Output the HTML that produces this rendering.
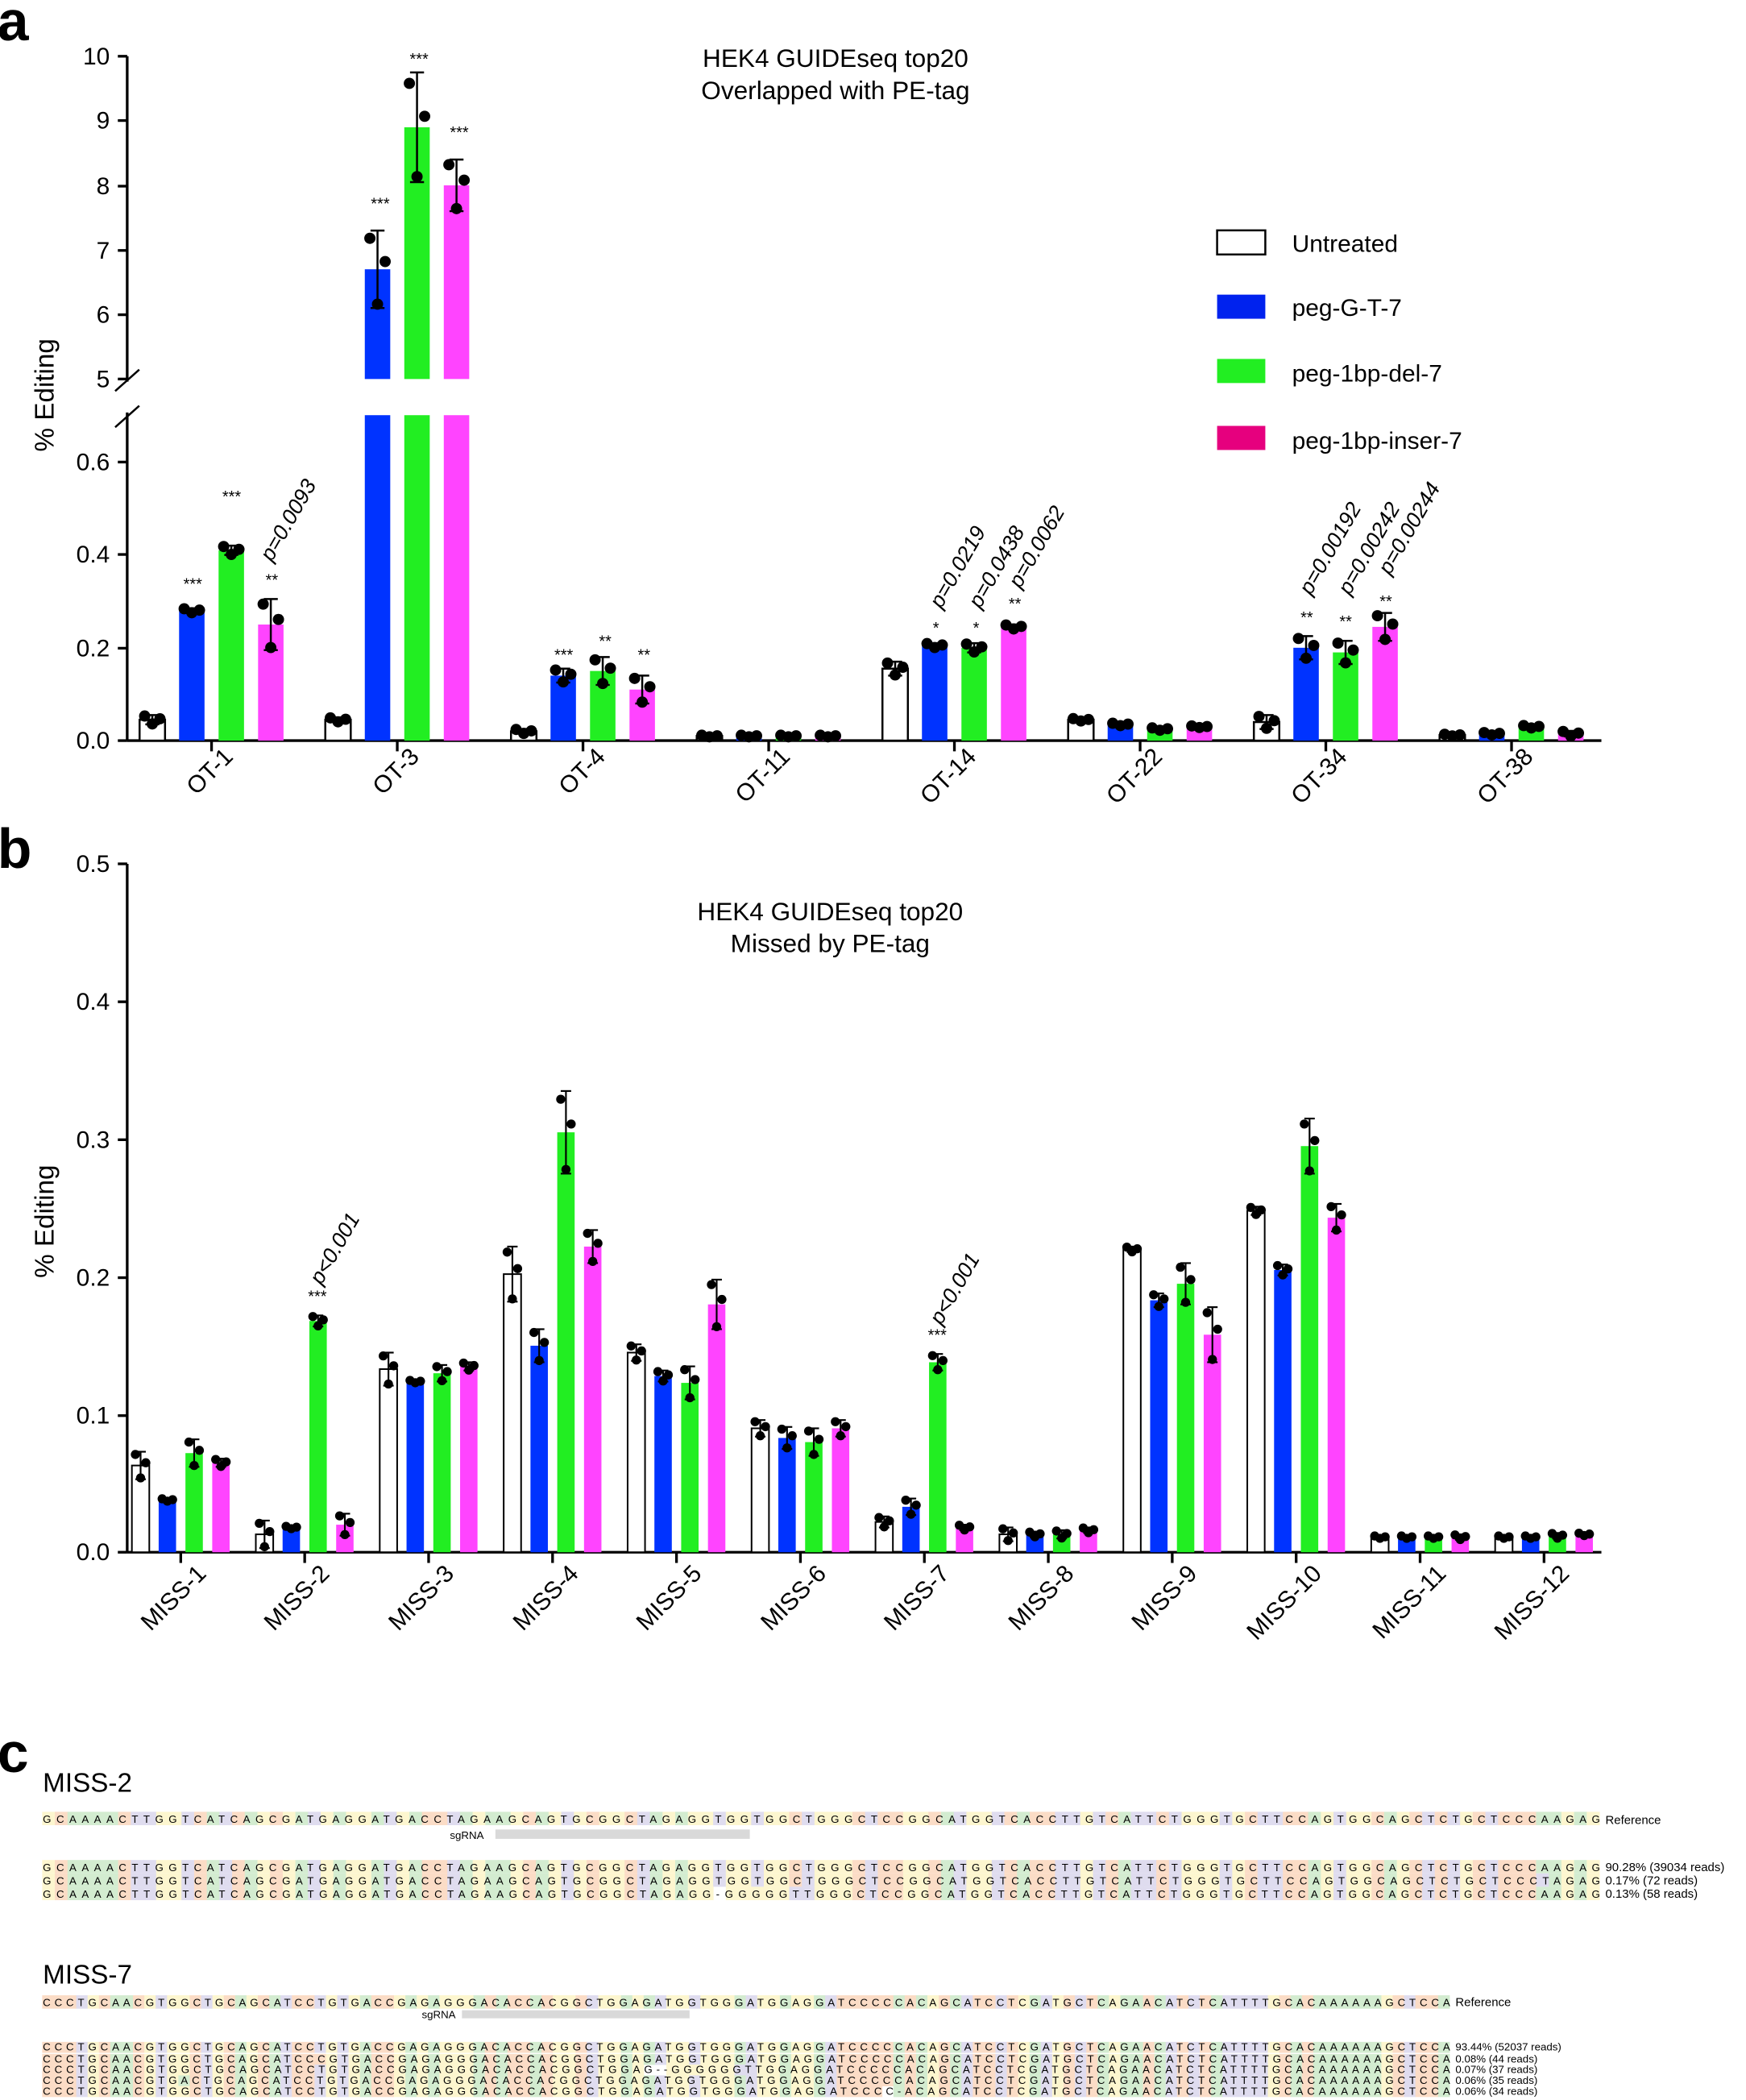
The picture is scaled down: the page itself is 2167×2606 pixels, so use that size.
<!DOCTYPE html>
<html><head><meta charset="utf-8"><style>
html,body{margin:0;padding:0;background:#fff}
svg{display:block}
text{font-family:"Liberation Sans",Arial,sans-serif;fill:#000}
.tk{font-size:18px;text-anchor:end}
.xl{font-size:18px;text-anchor:end}
.st{font-size:12px;text-anchor:middle}
.pv{font-size:16px;font-style:italic}
.seq{font-size:8px;font-family:"Liberation Sans",sans-serif}
.sl{font-size:9px}
</style></head><body>
<svg id="s" width="2167" height="2606" viewBox="0 0 1304 1568" preserveAspectRatio="none" xmlns="http://www.w3.org/2000/svg">
<g id="shapes"></g>
<text x="-2" y="30" style="font-size:42px;font-weight:bold">a</text>
<text x="-2" y="648" style="font-size:42px;font-weight:bold">b</text>
<text x="-2" y="1323" style="font-size:42px;font-weight:bold">c</text>
<text class="tk" x="82" y="48">10</text><text class="tk" x="82" y="96">9</text><text class="tk" x="82" y="145">8</text>
<text class="tk" x="82" y="193">7</text><text class="tk" x="82" y="241">6</text><text class="tk" x="82" y="289">5</text>
<text class="tk" x="82" y="351">0.6</text><text class="tk" x="82" y="420">0.4</text><text class="tk" x="82" y="490">0.2</text><text class="tk" x="82" y="559">0.0</text>
<text transform="translate(40,295) rotate(-90)" style="font-size:20px;text-anchor:middle">% Editing</text>
<text x="624" y="50" style="font-size:19px;text-anchor:middle">HEK4 GUIDEseq top20</text>
<text x="624" y="74" style="font-size:19px;text-anchor:middle">Overlapped with PE-tag</text>
<text x="965" y="188" style="font-size:18px">Untreated</text>
<text x="965" y="236" style="font-size:18px">peg-G-T-7</text>
<text x="965" y="285" style="font-size:18px">peg-1bp-del-7</text>
<text x="965" y="335" style="font-size:18px">peg-1bp-inser-7</text>
<text class="xl" transform="translate(175,566) rotate(-45)">OT-1</text>
<text class="xl" transform="translate(314,566) rotate(-45)">OT-3</text>
<text class="xl" transform="translate(453,566) rotate(-45)">OT-4</text>
<text class="xl" transform="translate(591,566) rotate(-45)">OT-11</text>
<text class="xl" transform="translate(730,566) rotate(-45)">OT-14</text>
<text class="xl" transform="translate(869,566) rotate(-45)">OT-22</text>
<text class="xl" transform="translate(1007,566) rotate(-45)">OT-34</text>
<text class="xl" transform="translate(1146,566) rotate(-45)">OT-38</text>
<text class="st" x="144" y="440">***</text><text class="st" x="173" y="375">***</text><text class="st" x="203" y="437">**</text>
<text class="st" x="284" y="156">***</text><text class="st" x="313" y="48">***</text><text class="st" x="343" y="103">***</text>
<text class="st" x="421" y="493">***</text><text class="st" x="452" y="483">**</text><text class="st" x="481" y="493">**</text>
<text class="st" x="699" y="473">*</text><text class="st" x="729" y="473">*</text><text class="st" x="758" y="455">**</text>
<text class="st" x="976" y="465">**</text><text class="st" x="1005" y="468">**</text><text class="st" x="1035" y="453">**</text>
<text class="pv" transform="translate(203,420) rotate(-60)">p=0.0093</text>
<text class="pv" transform="translate(703,455) rotate(-60)">p=0.0219</text>
<text class="pv" transform="translate(732,455) rotate(-60)">p=0.0438</text>
<text class="pv" transform="translate(762,440) rotate(-60)">p=0.0062</text>
<text class="pv" transform="translate(979,445) rotate(-60)">p=0.00192</text>
<text class="pv" transform="translate(1008,445) rotate(-60)">p=0.00242</text>
<text class="pv" transform="translate(1038,430) rotate(-60)">p=0.00244</text>
<text class="tk" x="82" y="651">0.5</text><text class="tk" x="82" y="754">0.4</text><text class="tk" x="82" y="857">0.3</text>
<text class="tk" x="82" y="960">0.2</text><text class="tk" x="82" y="1063">0.1</text><text class="tk" x="82" y="1165">0.0</text>
<text transform="translate(40,912) rotate(-90)" style="font-size:20px;text-anchor:middle">% Editing</text>
<text x="620" y="687" style="font-size:19px;text-anchor:middle">HEK4 GUIDEseq top20</text>
<text x="620" y="711" style="font-size:19px;text-anchor:middle">Missed by PE-tag</text>
<text class="st" x="237" y="972">***</text><text class="st" x="700" y="1001">***</text>
<text class="pv" transform="translate(240,960) rotate(-60)">p&lt;0.001</text>
<text class="pv" transform="translate(703,990) rotate(-60)">p&lt;0.001</text>
<text class="xl" transform="translate(155,1176) rotate(-45)">MISS-1</text>
<text class="xl" transform="translate(247,1176) rotate(-45)">MISS-2</text>
<text class="xl" transform="translate(340,1176) rotate(-45)">MISS-3</text>
<text class="xl" transform="translate(433,1176) rotate(-45)">MISS-4</text>
<text class="xl" transform="translate(525,1176) rotate(-45)">MISS-5</text>
<text class="xl" transform="translate(618,1176) rotate(-45)">MISS-6</text>
<text class="xl" transform="translate(710,1176) rotate(-45)">MISS-7</text>
<text class="xl" transform="translate(803,1176) rotate(-45)">MISS-8</text>
<text class="xl" transform="translate(895,1176) rotate(-45)">MISS-9</text>
<text class="xl" transform="translate(988,1176) rotate(-45)">MISS-10</text>
<text class="xl" transform="translate(1081,1176) rotate(-45)">MISS-11</text>
<text class="xl" transform="translate(1173,1176) rotate(-45)">MISS-12</text>
<g id="seqbg"></g>
<text x="32" y="1338" style="font-size:20px">MISS-2</text>
<text class="seq" x="32" y="1361" textLength="1163" lengthAdjust="spacing">GCAAAACTTGGTCATCAGCGATGAGGATGACCTAGAAGCAGTGCGGCTAGAGGTGGTGGCTGGGCTCCGGCATGGTCACCTTGTCATTCTGGGTGCTTCCAGTGGCAGCTCTGCTCCCAAGAG</text>
<text class="sl" x="1199" y="1362">Reference</text>
<text x="336" y="1373" style="font-size:8px">sgRNA</text>
<text class="seq" x="32" y="1397" textLength="1163" lengthAdjust="spacing">GCAAAACTTGGTCATCAGCGATGAGGATGACCTAGAAGCAGTGCGGCTAGAGGTGGTGGCTGGGCTCCGGCATGGTCACCTTGTCATTCTGGGTGCTTCCAGTGGCAGCTCTGCTCCCAAGAG</text>
<text class="seq" x="32" y="1407" textLength="1163" lengthAdjust="spacing">GCAAAACTTGGTCATCAGCGATGAGGATGACCTAGAAGCAGTGCGGCTAGAGGTGGTGGCTGGGCTCCGGCATGGTCACCTTGTCATTCTGGGTGCTTCCAGTGGCAGCTCTGCTCCCTAGAG</text>
<text class="seq" x="32" y="1417" textLength="1163" lengthAdjust="spacing">GCAAAACTTGGTCATCAGCGATGAGGATGACCTAGAAGCAGTGCGGCTAGAGG-GGGGGTTGGGCTCCGGCATGGTCACCTTGTCATTCTGGGTGCTTCCAGTGGCAGCTCTGCTCCCAAGAG</text>
<text class="sl" x="1199" y="1397">90.28% (39034 reads)</text>
<text class="sl" x="1199" y="1407">0.17% (72 reads)</text>
<text class="sl" x="1199" y="1417">0.13% (58 reads)</text>
<text x="32" y="1481" style="font-size:20px">MISS-7</text>
<text class="seq" x="32" y="1498" textLength="1051" lengthAdjust="spacing">CCCTGCAACGTGGCTGCAGCATCCTGTGACCGAGAGGGACACCACGGCTGGAGATGGTGGGATGGAGGATCCCCCACAGCATCCTCGATGCTCAGAACATCTCATTTTGCACAAAAAAGCTCCA</text>
<text class="sl" x="1087" y="1498">Reference</text>
<text x="315" y="1507" style="font-size:8px">sgRNA</text>
<text class="seq" x="32" y="1531" textLength="1051" lengthAdjust="spacing">CCCTGCAACGTGGCTGCAGCATCCTGTGACCGAGAGGGACACCACGGCTGGAGATGGTGGGATGGAGGATCCCCCACAGCATCCTCGATGCTCAGAACATCTCATTTTGCACAAAAAAGCTCCA</text>
<text class="seq" x="32" y="1540" textLength="1051" lengthAdjust="spacing">CCCTGCAACGTGGCTGCAGCATCCCGTGACCGAGAGGGACACCACGGCTGGAGATGGTGGGATGGAGGATCCCCCACAGCATCCTCGATGCTCAGAACATCTCATTTTGCACAAAAAAGCTCCA</text>
<text class="seq" x="32" y="1548" textLength="1051" lengthAdjust="spacing">CCCTGCAACGTGGCTGCAGCATCCTGTGACCGAGAGGGACACCACGGCTGGAG--GGGGGGTTGGAGGATCCCCCACAGCATCCTCGATGCTCAGAACATCTCATTTTGCACAAAAAAGCTCCA</text>
<text class="seq" x="32" y="1556" textLength="1051" lengthAdjust="spacing">CCCTGCAACGTGACTGCAGCATCCTGTGACCGAGAGGGACACCACGGCTGGAGATGGTGGGATGGAGGATCCCCCACAGCATCCTCGATGCTCAGAACATCTCATTTTGCACAAAAAAGCTCCA</text>
<text class="seq" x="32" y="1564" textLength="1051" lengthAdjust="spacing">CCCTGCAACGTGGCTGCAGCATCCTGTGACCGAGAGGGACACCACGGCTGGAGATGGTGGGATGGAGGATCCCC-ACAGCATCCTCGATGCTCAGAACATCTCATTTTGCACAAAAAAGCTCCA</text>
<text class="sl" x="1087" y="1531" style="font-size:8px">93.44% (52037 reads)</text>
<text class="sl" x="1087" y="1540" style="font-size:8px">0.08% (44 reads)</text>
<text class="sl" x="1087" y="1548" style="font-size:8px">0.07% (37 reads)</text>
<text class="sl" x="1087" y="1556" style="font-size:8px">0.06% (35 reads)</text>
<text class="sl" x="1087" y="1564" style="font-size:8px">0.06% (34 reads)</text>
</svg>
<script>
(function(){
var NS="http://www.w3.org/2000/svg";
var g=document.getElementById("shapes");
function el(t,a,p){var e=document.createElementNS(NS,t);for(var k in a)e.setAttribute(k,a[k]);(p||g).appendChild(e);return e;}
function line(x1,y1,x2,y2,w){el("line",{x1:x1,y1:y1,x2:x2,y2:y2,stroke:"#000","stroke-width":w||1.5});}
var fills=["#ffffff","#0033ff","#22ee22","#ff44ff"];
line(95,42,95,285,2);line(95,308,95,553,2);line(95,553,1196,553,2);
[42,90,139,187,235,283].forEach(function(y){line(88,y,95,y,2);});
[345,414,484,553].forEach(function(y){line(88,y,95,y,2);});
line(86,292,104,276,1.5);line(86,319,104,303,1.5);
function ya(v){return v<=0.7?553-v*346.7:283-(v-5)*48.2;}
var A=[[.045,.28,.41,.25],[.045,6.7,8.9,8.0],[.02,.14,.15,.11],[.01,.01,.01,.01],[.155,.205,.20,.245],[.045,.035,.025,.03],[.04,.20,.19,.245],[.012,.015,.03,.015]];
var AS=[[.01,.005,.01,.055],[.005,.6,.85,.4],[.005,.015,.03,.03],[.002,.002,.002,.002],[.015,.005,.01,.005],[.003,.003,.003,.002],[.015,.025,.025,.03],[.002,.003,.003,.006]];
function bar(cx,w,v,sd,k,yf,split){
  var x=cx-w/2;
  if(split&&v>5){
    el("rect",{x:x,y:310,width:w,height:243,fill:fills[k]});
    el("rect",{x:x,y:yf(v),width:w,height:283-yf(v),fill:fills[k]});
  } else {
    el("rect",{x:x,y:yf(v),width:w,height:553-yf(v),fill:fills[k],stroke:k==0?"#000":"none","stroke-width":1.5});
  }
  var yt=yf(v+sd),yb=yf(Math.max(0,v-sd)),cw=w*0.55;
  line(cx,yt,cx,yb,1.5);line(cx-cw/2,yt,cx+cw/2,yt,1.5);line(cx-cw/2,yb,cx+cw/2,yb,1.5);
  var pts=[[-w*0.3,v+sd*0.8],[0,v-sd*0.9],[w*0.3,v+sd*0.2]];
  pts.forEach(function(p){el("circle",{cx:cx+p[0],cy:yf(p[1]),r:4.2,fill:"#000"});});
}
for(var i=0;i<8;i++){var c=158+i*138.7;line(c,553,c,561,2);
  for(var k=0;k<4;k++)bar(c+(k-1.5)*29.5,19,A[i][k],AS[i][k],k,ya,true);}
var ly=[172,220,268,318],lc=["#fff","#0022ee","#22ee22","#e6007e"];
for(var k=0;k<4;k++)el("rect",{x:909,y:ly[k],width:36,height:18,fill:lc[k],stroke:k==0?"#000":"none","stroke-width":1.5});
line(95,645,95,1159,2);line(95,1159,1196,1159,2);
[645,748,851,954,1057,1159].forEach(function(y){line(88,y,95,y,2);});
function yb(v){return 1159-v*1028;}
var B=[[.063,.038,.072,.065],[.013,.018,.168,.02],[.133,.124,.13,.135],[.202,.15,.305,.222],[.145,.128,.123,.18],[.09,.083,.08,.09],[.022,.033,.138,.018],[.013,.013,.013,.016],[.22,.183,.195,.158],[.248,.205,.295,.243],[.011,.011,.011,.011],[.011,.011,.012,.013]];
var BS=[[.01,.001,.01,.003],[.01,.001,.004,.008],[.012,.001,.006,.003],[.02,.012,.03,.012],[.006,.004,.012,.018],[.006,.008,.01,.006],[.004,.006,.006,.002],[.005,.002,.003,.002],[.002,.005,.015,.02],[.003,.004,.02,.01],[.001,.001,.001,.002],[.001,.001,.002,.001]];
function barb(cx,w,v,sd,k){
  var x=cx-w/2;
  el("rect",{x:x,y:yb(v),width:w,height:1159-yb(v),fill:fills[k],stroke:k==0?"#000":"none","stroke-width":1.2});
  var yt=yb(v+sd),y0=yb(Math.max(0,v-sd)),cw=w*0.6;
  line(cx,yt,cx,y0,1.3);line(cx-cw/2,yt,cx+cw/2,yt,1.3);line(cx-cw/2,y0,cx+cw/2,y0,1.3);
  [[-w*0.3,v+sd*0.8],[0,v-sd*0.9],[w*0.3,v+sd*0.2]].forEach(function(p){el("circle",{cx:cx+p[0],cy:yb(p[1]),r:3.4,fill:"#000"});});
}
for(var i=0;i<12;i++){var c=135+i*92.56;line(c,1159,c,1167,2);
  for(var k=0;k<4;k++)barb(c+(k-1.5)*20,13,B[i][k],BS[i][k],k);}
var bg=document.getElementById("seqbg");
var col={A:"#d3ecd0",C:"#fbdcc6",G:"#fdf6cf",T:"#dfdcef"};
var seqs=document.querySelectorAll("text.seq");
for(var j=0;j<seqs.length;j++){
  var t=seqs[j],s=t.textContent,x0=+t.getAttribute("x"),L=+t.getAttribute("textLength"),y=+t.getAttribute("y");
  var cwid=L/s.length,h=(y>1500?8.2:10);
  for(var q=0;q<s.length;q++){var ch=s[q];if(!col[ch])continue;
    el("rect",{x:x0+q*cwid-0.5,y:y-h+1.8,width:cwid+0.3,height:h,fill:col[ch]},bg);}
}
el("rect",{x:370,y:1366,width:190,height:7,fill:"#d9d9d9"},bg);
el("rect",{x:345,y:1501,width:170,height:6,fill:"#d9d9d9"},bg);
})();
</script>
</body></html>
